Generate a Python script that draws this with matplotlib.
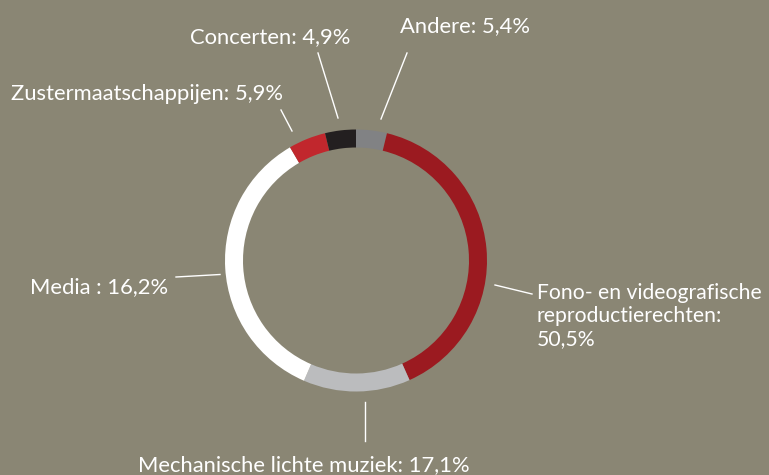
import matplotlib.pyplot as plt

# categories, printed label values and the arc shares as drawn in the picture
categories = ["Andere", "Fono- en videografische\nreproductierechten:\n", "Mechanische lichte muziek",
              "Media ", "Zustermaatschappijen", "Concerten"]
label_values = ["5,4%", "50,5%", "17,1%", "16,2%", "5,9%", "4,9%"]
arc_shares = [3.8, 39.5, 13.2, 35.1, 4.6, 3.8]
colors = ["#818284", "#9b1a20", "#bbbcbe", "#ffffff", "#c1272d", "#231f20"]

bg = "#8a8674"
plt.rcParams["font.family"] = ["Lato", "DejaVu Sans"]

fig = plt.figure(figsize=(7.69, 4.75), dpi=100, facecolor=bg)
ax = fig.add_axes([0, 0, 1, 1])
ax.set_facecolor(bg)

# ring, starting at the top and running clockwise (y axis is flipped below)
ax.pie(arc_shares, colors=colors, radius=131, center=(356, 260.5),
       startangle=-90, counterclock=True,
       wedgeprops=dict(width=18, linewidth=0))

ax.set_xlim(0, 769)
ax.set_ylim(475, 0)
ax.set_aspect("equal")
ax.axis("off")

# label layout: text anchor (left, baseline of last line), size and leader line
text_pos = [(400, 32), (537, 345), (138, 471), (30, 293), (11, 100), (190, 43)]
sizes = [15.8, 15.2, 15.8, 15.8, 15.8, 15.8]
leaders = [((407, 53), (381, 119)),
           ((532, 294), (495, 285)),
           ((365, 441), (365, 402)),
           ((176, 277), (220, 274.5)),
           ((281, 110), (292, 131)),
           ((318, 53), (338, 118))]

for name, val, (tx, ty), fs, (p0, p1) in zip(categories, label_values, text_pos, sizes, leaders):
    sep = "" if name.endswith("\n") else ": "
    ax.text(tx, ty, name + sep + val, color="white", fontsize=fs,
            ha="left", va="baseline", linespacing=1.2)
    ax.plot([p0[0], p1[0]], [p0[1], p1[1]], color="white", lw=1)

fig.savefig("out.png", dpi=100, facecolor=bg)
